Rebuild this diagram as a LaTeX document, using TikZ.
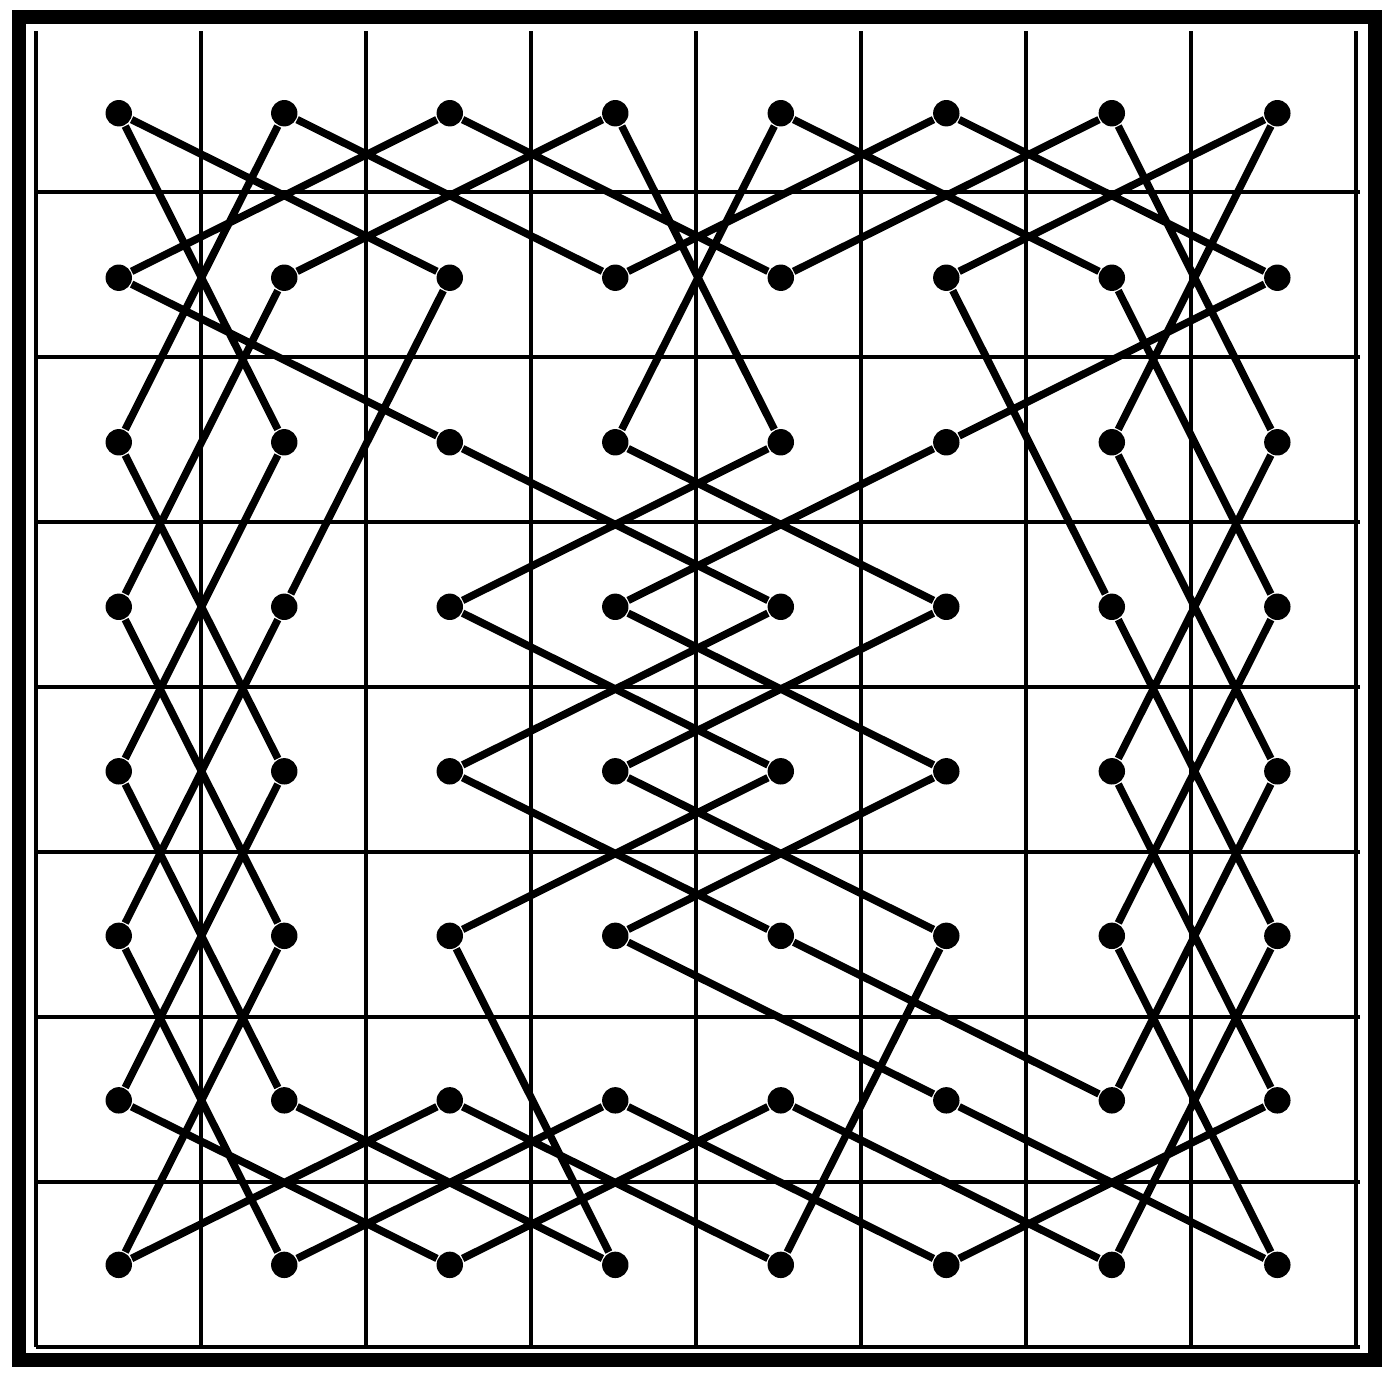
\documentclass[tikz,border=0pt]{standalone}
\usepackage{tikz}

\begin{document}
\begin{tikzpicture}[x=1.003cm, y=0.997cm,
	hop/.style={circle, fill, inner sep=0pt, minimum size=0.16cm},
	tour/.style={line width=1.3pt, line join=round},
	board/.style={line width=0.7pt}]
	\useasboundingbox (-0.2175,-0.1885) rectangle (8.193,8.1885);
	\draw[line width=2.5pt] (-0.103,-0.079) rectangle (8.091,8.085);
	\draw[board] (0,0) grid (8,8);
	
	% one dot per square, s<column><row>, row 0 at the top
	\foreach \c in {0,...,7}
		\foreach \r in {0,...,7}
			\node[hop] (s\c\r) at (\c+0.5,7.5-\r) {};
	
	\draw[tour] (s00) -- (s21) -- (s13) -- (s05) -- (s17) -- (s36) -- (s57) -- (s76)
		-- (s64) -- (s72) -- (s60) -- (s41) -- (s20) -- (s01) -- (s22) -- (s43)
		-- (s24) -- (s45) -- (s66) -- (s74) -- (s62) -- (s70) -- (s51) -- (s63)
		-- (s75) -- (s67) -- (s46) -- (s27) -- (s06) -- (s14) -- (s02) -- (s10)
		-- (s31) -- (s50) -- (s71) -- (s52) -- (s33) -- (s54) -- (s35) -- (s56)
		-- (s77) -- (s65) -- (s73) -- (s61) -- (s40) -- (s32) -- (s53) -- (s34)
		-- (s55) -- (s47) -- (s26) -- (s07) -- (s15) -- (s03) -- (s11) -- (s30)
		-- (s42) -- (s23) -- (s44) -- (s25) -- (s37) -- (s16) -- (s04) -- (s12)
		-- (s00);
\end{tikzpicture}
\end{document}
